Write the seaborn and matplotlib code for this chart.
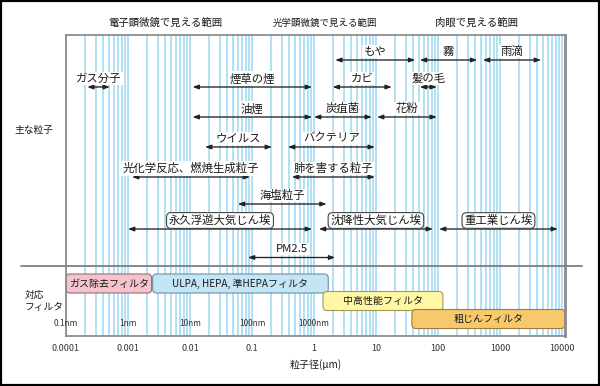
import numpy as np
import matplotlib
matplotlib.use('Agg')
import matplotlib.pyplot as plt
from matplotlib.patches import FancyBboxPatch, Rectangle
from matplotlib.lines import Line2D
from matplotlib.transforms import IdentityTransform
from matplotlib.ticker import LogLocator, NullFormatter
import seaborn as sns

# particle size ranges (µm), row = line in the upper panel
particle_names = ['もや', '霧', '雨滴',
                  'ガス分子', '煙草の煙', 'カビ', '髪の毛',
                  '油煙', '炭疽菌', '花粉',
                  'ウイルス', 'バクテリア',
                  '光化学反応、燃焼生成粒子', '肺を害する粒子',
                  '海塩粒子',
                  '永久浮遊大気じん埃', '沈降性大気じん埃', '重工業じん埃',
                  'PM2.5']
particle_low  = [2.2, 51, 530,
                 0.00022, 0.011, 2.0, 51,
                 0.011, 1.0, 10.4,
                 0.0175, 0.38,
                 0.00116, 0.44,
                 0.059,
                 0.001, 1.2, 104,
                 0.086]
particle_high = [43, 430, 4600,
                 0.00051, 0.93, 18, 96,
                 0.93, 8.6, 96,
                 0.21, 9.6,
                 0.093, 9.6,
                 1.6,
                 0.93, 83, 8600,
                 2.2]
particle_row  = [0, 0, 0, 1, 1, 1, 1, 2, 2, 2, 3, 3, 4, 4, 5, 6, 6, 6, 7]
boxed_names   = ['永久浮遊大気じん埃', '沈降性大気じん埃', '重工業じん埃']

# filters (µm)
filter_names = ['ガス除去フィルタ', 'ULPA, HEPA, 準HEPAフィルタ', '中高性能フィルタ', '粗じんフィルタ']
filter_low   = [0.0001, 0.0025, 1.4, 38]
filter_high  = [0.0024, 1.7, 120, 11200]
filter_row   = [0, 0, 1, 2]

tick_vals   = [1e-4, 1e-3, 1e-2, 1e-1, 1, 10, 100, 1000, 10000]
tick_labels = ['0.0001', '0.001', '0.01', '0.1', '1', '10', '100', '1000', '10000']
nm_vals     = [1e-4, 1e-3, 1e-2, 1e-1, 1]
nm_labels   = ['0.1nm', '1nm', '10nm', '100nm', '1000nm']

# layout (y in pixels from the top of the figure)
arrow_y  = [60, 87, 117, 147, 177, 204, 229, 257.5]
filter_y = [283.5, 301, 319]
filter_h = 19
filter_fc = ['#f5c3cd', '#c4e5f6', '#fff7a3', '#f7c86c']
filter_ec = ['#9a6c76', '#6f909f', '#a39b5c', '#a07a38']
ink = '#1a1a1a'

sns.set_theme(style='white')
plt.rcParams['font.family'] = ['Noto Sans CJK JP', 'DejaVu Sans']

W, H = 600, 386
fig = plt.figure(figsize=(W / 100, H / 100), dpi=100)
fig.patch.set_facecolor('white')
ax = fig.add_axes([66 / W, 1 - 336 / H, (565 - 66) / W, (336 - 35) / H])
ax.set_xscale('log')
ax.set_xlim(1e-4, 1.12e4)
ax.set_ylim(336, 35)

ax.set_xticks(tick_vals)
ax.set_xticklabels(tick_labels, fontsize=6.5, color='#333333')
ax.xaxis.set_minor_locator(LogLocator(base=10, subs=np.arange(2, 10), numticks=30))
ax.xaxis.set_minor_formatter(NullFormatter())
ax.set_yticks([])
ax.tick_params(axis='x', which='both', length=0, pad=6)
ax.set_xlabel('粒子径(μm)', fontsize=7.2, color=ink, labelpad=4)
ax.set_axisbelow(True)
ax.grid(True, which='both', axis='x', color='#a0daf1', lw=1.15)
for s in ax.spines.values():
    s.set_color('#8c8c8c')
    s.set_linewidth(1.3)
ax.spines['right'].set_linewidth(2)

# particle arrows
arrow_kw = dict(arrowstyle='<|-|>,head_length=0.35,head_width=0.13', color='#222222',
                lw=0.95, shrinkA=0, shrinkB=0, mutation_scale=10)
for name, lo, hi, row in zip(particle_names, particle_low, particle_high, particle_row):
    y = arrow_y[row]
    ax.annotate('', xy=(hi, y), xytext=(lo, y), arrowprops=arrow_kw, zorder=3)
    if name in boxed_names:
        bb = dict(boxstyle='round,pad=0.2,rounding_size=0.4', fc='white', ec='#444444', lw=0.8)
    else:
        bb = dict(fc='white', ec='none', pad=1)
    ax.text(np.sqrt(lo * hi), y - 8.5, name, ha='center', va='center', fontsize=8.2,
            color=ink, bbox=bb, zorder=4)

# filter boxes
for name, lo, hi, row, fc, ec in zip(filter_names, filter_low, filter_high, filter_row,
                                     filter_fc, filter_ec):
    yc = filter_y[row]
    x0, y0 = ax.transData.transform((lo, yc + filter_h / 2))
    x1, y1 = ax.transData.transform((hi, yc - filter_h / 2))
    p = FancyBboxPatch((x0, y0), x1 - x0, y1 - y0, boxstyle='round,pad=0,rounding_size=4',
                       transform=IdentityTransform(), fc=fc, ec=ec, lw=0.8,
                       clip_on=False, zorder=2)
    ax.add_patch(p)
    ax.text(np.sqrt(lo * hi), yc, name, ha='center', va='center', fontsize=7.2,
            color=ink, zorder=4)

for v, s in zip(nm_vals, nm_labels):
    ax.text(v, 323, s, ha='center', va='center', fontsize=6, color='#333333',
            clip_on=False, zorder=4)

# headers and side labels
fig.text(165 / W, 1 - 23 / H, '電子顕微鏡で見える範囲', ha='center', va='center', fontsize=7.5, color=ink)
fig.text(325 / W, 1 - 23 / H, '光学顕微鏡で見える範囲', ha='center', va='center', fontsize=6.8, color=ink)
fig.text(477 / W, 1 - 23 / H, '肉眼で見える範囲', ha='center', va='center', fontsize=7.5, color=ink)
fig.text(34 / W, 1 - 130 / H, '主な粒子', ha='center', va='center', fontsize=7, color=ink)
fig.text(25 / W, 1 - 301 / H, '対応\nフィルタ', ha='left', va='center', fontsize=7,
         color=ink, linespacing=1.2)

fig.add_artist(Line2D([21 / W, 582 / W], [1 - 266 / H] * 2, color='#7f7f7f', lw=1.3))
fig.add_artist(Rectangle((0, 0), 1, 1, transform=fig.transFigure, fill=False,
                         ec='black', lw=3))

fig.savefig('out.png', dpi=100)
